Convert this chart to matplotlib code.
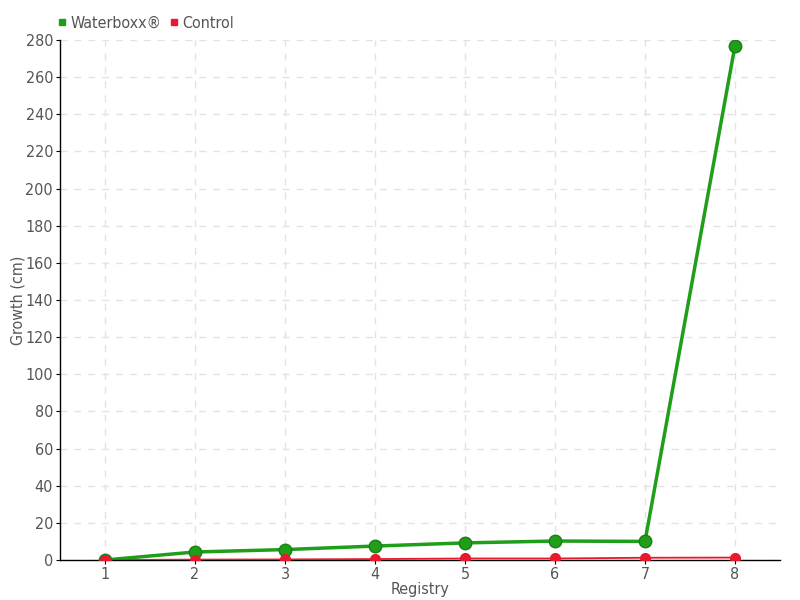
import matplotlib
matplotlib.use('Agg')
import matplotlib.pyplot as plt
from matplotlib.lines import Line2D

plt.rcParams['font.family'] = ['DejaVu Sans']
plt.rcParams['font.stretch'] = 'condensed'

registry = [1, 2, 3, 4, 5, 6, 7, 8]
waterboxx = [0, 4.3, 5.6, 7.5, 9.2, 10.2, 10.0, 277]
control = [0, 0.2, 0.3, 0.5, 0.8, 0.8, 1.2, 1.3]
yticks = list(range(0, 281, 20))

green = '#1f9e1a'
red = '#e8192c'
text_col = '#555555'

fig = plt.figure(figsize=(8, 6), dpi=100)
ax = fig.add_axes([0.075, 0.0667, 0.9, 0.8667])

ax.plot(registry, waterboxx, color=green, lw=2.5, marker='o', ms=9,
        markeredgecolor='#1a7f16', zorder=3)
ax.plot(registry, control, color=red, lw=1.3, marker='o', ms=7,
        markeredgecolor=red, zorder=4)

ax.set_xlim(0.5, 8.5)
ax.set_ylim(0, 280)
ax.set_xticks(registry)
ax.set_yticks(yticks)
ax.grid(True, color='#e3e3e3', linestyle=(0, (5, 5)), lw=1)
ax.set_axisbelow(True)

for s in ['top', 'right']:
    ax.spines[s].set_visible(False)
for s in ['left', 'bottom']:
    ax.spines[s].set_color('black')
    ax.spines[s].set_linewidth(1)

ax.tick_params(axis='both', colors=text_col, labelsize=11.5, length=3, pad=2)
ax.tick_params(axis='both', color='black')
ax.set_xlabel('Registry', color=text_col, fontsize=11.5, labelpad=0)
ax.set_ylabel('Growth (cm)', color=text_col, fontsize=11.5)
ax.yaxis.set_label_coords(-0.048, 0.5)

handles = [Line2D([], [], marker='s', color=green, ls='', ms=5),
           Line2D([], [], marker='s', color=red, ls='', ms=5)]
fig.legend(handles, ['Waterboxx®', 'Control'], loc='upper left',
           bbox_to_anchor=(0.052, 0.998), ncol=2, frameon=False,
           fontsize=11.5, handletextpad=0.1, columnspacing=0.4,
           labelcolor=text_col, handlelength=0.8)

fig.savefig('out.png', dpi=100)
